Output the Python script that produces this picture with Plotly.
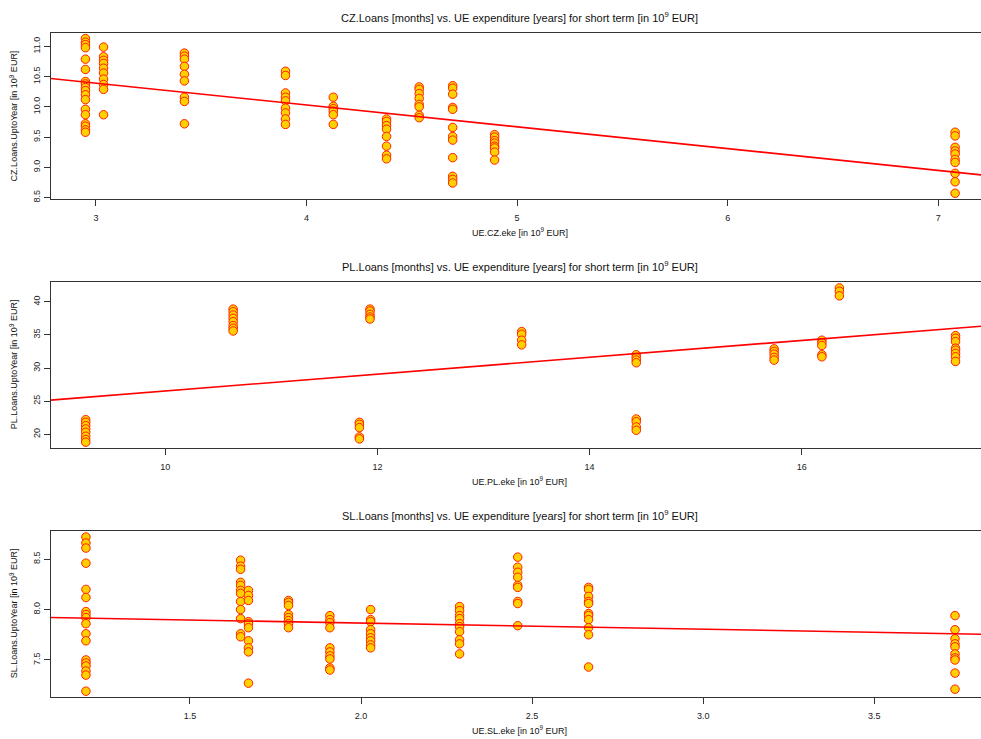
import plotly.graph_objects as go

# ---------------- data ----------------
cz_x = [2.95, 3.036, 3.42, 3.90, 4.127, 4.38, 4.535, 4.694, 4.893, 7.08]
cz_y = [
    [11.13, 11.07, 11.03, 10.98, 10.79, 10.62, 10.42, 10.38, 10.32, 10.27, 10.2, 10.12, 9.96, 9.87, 9.72, 9.68, 9.62, 9.58],
    [10.99, 10.83, 10.77, 10.72, 10.64, 10.56, 10.46, 10.37, 10.29, 9.87],
    [10.89, 10.84, 10.79, 10.67, 10.54, 10.43, 10.16, 10.09, 9.72],
    [10.59, 10.52, 10.23, 10.16, 10.1, 9.98, 9.9, 9.8, 9.71],
    [10.16, 10.01, 9.97, 9.93, 9.87, 9.71],
    [9.8, 9.76, 9.69, 9.63, 9.51, 9.35, 9.2, 9.14],
    [10.33, 10.29, 10.22, 10.14, 10.04, 10.0, 9.86, 9.82],
    [10.35, 10.31, 10.21, 9.99, 9.96, 9.66, 9.51, 9.45, 9.16, 8.85, 8.8, 8.74],
    [9.54, 9.5, 9.44, 9.4, 9.35, 9.32, 9.25, 9.12],
    [9.58, 9.52, 9.33, 9.27, 9.22, 9.13, 9.08, 8.9, 8.76, 8.57],
]
cz_fit = [11.475, -0.361]  # intercept, slope

pl_x = [9.25, 10.64, 11.83, 11.93, 13.36, 14.44, 15.74, 16.19, 16.355, 17.45]
pl_y = [
    [22.2, 21.8, 21.3, 20.8, 20.3, 19.7, 19.2, 18.8],
    [38.9, 38.5, 38.0, 37.5, 37.0, 36.4, 36.0, 35.6],
    [21.8, 21.5, 21.0, 19.6, 19.3],
    [38.9, 38.6, 38.1, 37.7, 37.4],
    [35.5, 35.1, 34.2, 33.5],
    [32.0, 31.6, 31.2, 30.8, 22.3, 21.9, 21.1, 20.6],
    [32.9, 32.5, 32.1, 31.6, 31.2],
    [34.2, 33.8, 33.4, 32.0, 31.7],
    [42.1, 41.6, 40.9],
    [34.9, 34.5, 34.0, 33.0, 32.7, 32.2, 31.7, 31.0],
]
pl_fit = [13.81, 1.2725]

sl_x = [1.196, 1.648, 1.671, 1.788, 1.909, 2.028, 2.288, 2.458, 2.665, 3.736]
sl_y = [
    [8.72, 8.66, 8.61, 8.46, 8.2, 8.12, 7.98, 7.95, 7.92, 7.86, 7.76, 7.69, 7.5, 7.47, 7.44, 7.39, 7.35, 7.19],
    [8.49, 8.43, 8.4, 8.27, 8.24, 8.19, 8.16, 8.08, 8.0, 7.91, 7.76, 7.73],
    [8.19, 8.14, 8.09, 7.88, 7.86, 7.82, 7.69, 7.62, 7.58, 7.27],
    [8.09, 8.07, 8.04, 7.95, 7.92, 7.89, 7.86, 7.82],
    [7.94, 7.9, 7.87, 7.82, 7.62, 7.58, 7.54, 7.51, 7.42, 7.4],
    [8.0, 7.9, 7.88, 7.8, 7.76, 7.72, 7.69, 7.65, 7.62],
    [8.03, 7.99, 7.94, 7.91, 7.86, 7.83, 7.78, 7.7, 7.66, 7.56],
    [8.52, 8.42, 8.37, 8.32, 8.24, 8.22, 8.08, 8.06, 7.84],
    [8.22, 8.2, 8.13, 8.08, 8.06, 7.96, 7.94, 7.9, 7.82, 7.75, 7.43],
    [7.94, 7.8, 7.71, 7.66, 7.63, 7.56, 7.52, 7.5, 7.37, 7.21],
]
sl_fit = [7.988, -0.061]

titles = [
    "CZ.Loans [months] vs. UE expenditure [years] for short term [in 10<sup>9</sup> EUR]",
    "PL.Loans [months] vs. UE expenditure [years] for short term [in 10<sup>9</sup> EUR]",
    "SL.Loans [months] vs. UE expenditure [years] for short term [in 10<sup>9</sup> EUR]",
]
xlabels = ["UE.CZ.eke [in 10<sup>9</sup> EUR]", "UE.PL.eke [in 10<sup>9</sup> EUR]", "UE.SL.eke [in 10<sup>9</sup> EUR]"]
ylabels = ["CZ.Loans.UptoYear [in 10<sup>9</sup> EUR]", "PL.Loans.UptoYear [in 10<sup>9</sup> EUR]",
           "SL.Loans.UptoYear [in 10<sup>9</sup> EUR]"]

x_ticks = [[3, 4, 5, 6, 7], [10, 12, 14, 16], [1.5, 2.0, 2.5, 3.0, 3.5]]
x_ticktext = [["3", "4", "5", "6", "7"], ["10", "12", "14", "16"], ["1.5", "2.0", "2.5", "3.0", "3.5"]]
y_ticks = [[8.5, 9.0, 9.5, 10.0, 10.5, 11.0], [20, 25, 30, 35, 40], [7.5, 8.0, 8.5]]
y_ticktext = [["8.5", "9.0", "9.5", "10.0", "10.5", "11.0"], ["20", "25", "30", "35", "40"], ["7.5", "8.0", "8.5"]]

# ---------------- layout geometry ----------------
W, H = 981, 739
FONT = "Liberation Sans, Arial, Helvetica, sans-serif"
left_px = 50.7
boxes = [(32.7, 200.0), (282.7, 450.0), (532.7, 700.0)]
x_ranges = [[2.785, 7.203], [8.92, 17.69], [1.093, 3.812]]
y_ranges = [[8.472, 11.23], [17.9, 43.06], [7.131, 8.784]]

fig = go.Figure()
panels = [(cz_x, cz_y, cz_fit), (pl_x, pl_y, pl_fit), (sl_x, sl_y, sl_fit)]
annotations = []
layout = {}
for i, (xs, ys, fit) in enumerate(panels):
    n = "" if i == 0 else str(i + 1)
    xa, ya = "x" + n, "y" + n
    px, py = [], []
    for xv, col in zip(xs, ys):
        for yv in col:
            px.append(xv)
            py.append(yv)
    fig.add_trace(go.Scatter(
        x=px, y=py, mode="markers", xaxis=xa, yaxis=ya, showlegend=False,
        marker=dict(size=8.5, color="#FFD000", line=dict(color="#FF2000", width=1)),
    ))
    lx = x_ranges[i]
    fig.add_trace(go.Scatter(
        x=lx, y=[fit[0] + fit[1] * v for v in lx], mode="lines", xaxis=xa, yaxis=ya,
        showlegend=False, line=dict(color="#FF0000", width=1.6),
    ))
    top, bot = boxes[i]
    layout["xaxis" + n] = dict(
        domain=[left_px / W, 1.0], range=x_ranges[i], anchor=ya,
        showline=True, linecolor="#333333", linewidth=1, mirror=True,
        ticks="outside", ticklen=6, tickcolor="#333333", tickwidth=1,
        tickvals=x_ticks[i], ticktext=x_ticktext[i], ticklabelstandoff=4,
        tickfont=dict(family=FONT, size=9, color="#222222"),
        showgrid=False, zeroline=False,
    )
    layout["yaxis" + n] = dict(
        domain=[(H - bot) / H, (H - top) / H], range=y_ranges[i], anchor=xa,
        showline=True, linecolor="#333333", linewidth=1, mirror=False,
        ticks="outside", ticklen=6, tickcolor="#333333", tickwidth=1,
        tickvals=y_ticks[i], ticktext=y_ticktext[i], tickangle=-90,
        tickfont=dict(family=FONT, size=9, color="#222222"),
        showgrid=False, zeroline=False,
    )
    cx = 519.5 / W
    annotations.append(dict(text=titles[i], x=cx, y=(H - (top - 15.5)) / H, xref="paper", yref="paper",
                            showarrow=False, xanchor="center", yanchor="middle",
                            font=dict(family=FONT, size=11, color="#111111")))
    annotations.append(dict(text=xlabels[i], x=cx, y=(H - (bot + 33)) / H, xref="paper", yref="paper",
                            showarrow=False, xanchor="center", yanchor="middle",
                            font=dict(family=FONT, size=9, color="#111111")))
    annotations.append(dict(text=ylabels[i], x=13.5 / W, y=(H - (top + bot) / 2) / H,
                            xref="paper", yref="paper",
                            showarrow=False, xanchor="center", yanchor="middle", textangle=-90,
                            font=dict(family=FONT, size=9, color="#111111")))

fig.update_layout(
    width=W, height=H, margin=dict(l=0, r=0, t=0, b=0),
    paper_bgcolor="white", plot_bgcolor="white",
    annotations=annotations, **layout,
)
fig.write_html("out.html", include_plotlyjs=True, full_html=True,
               config={"displayModeBar": False},
               post_script="document.body.style.margin='0';document.body.style.overflow='hidden';")
